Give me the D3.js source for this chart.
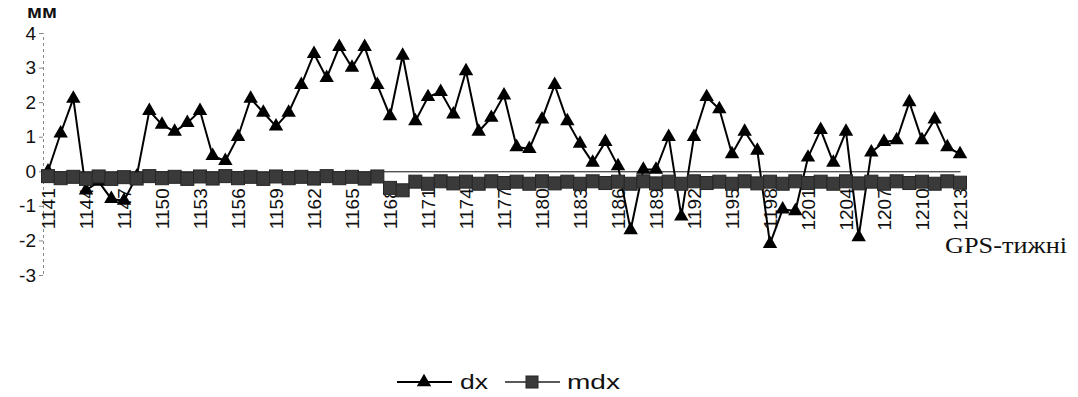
<!DOCTYPE html>
<html><head><meta charset="utf-8">
<script src="https://cdn.jsdelivr.net/npm/d3@7"></script>
<style>body{margin:0;background:#fff}svg{display:block}</style>
</head><body>
<svg id="c" width="1078" height="397"></svg>
<script>
// ---- data ----
const weeks = [1141,1142,1143,1144,1145,1146,1147,1148,1149,1150,1151,1152,1153,1154,1155,1156,1157,1158,1159,1160,
  1161,1162,1163,1164,1165,1166,1167,1168,1169,1170,1171,1172,1173,1174,1175,1176,1177,1178,1179,1180,
  1181,1182,1183,1184,1185,1186,1187,1188,1189,1190,1191,1192,1193,1194,1195,1196,1197,1198,1199,1200,
  1201,1202,1203,1204,1205,1206,1207,1208,1209,1210,1211,1212,1213];
const dx = [0.0,1.1,2.1,-0.55,-0.3,-0.8,-0.85,-0.15,1.75,1.35,1.15,1.4,1.75,0.45,0.3,1.0,2.1,1.7,1.3,1.7,
  2.5,3.4,2.7,3.6,3.0,3.6,2.5,1.6,3.35,1.45,2.15,2.3,1.65,2.9,1.15,1.55,2.2,0.7,0.65,1.5,
  2.5,1.45,0.8,0.25,0.85,0.15,-1.7,0.05,0.05,1.0,-1.3,1.0,2.15,1.8,0.5,1.15,0.6,-2.1,-1.1,-1.15,
  0.4,1.2,0.25,1.15,-1.9,0.55,0.85,0.9,2.0,0.9,1.5,0.7,0.5];
const mdx = [-0.14,-0.2,-0.16,-0.22,-0.15,-0.22,-0.17,-0.21,-0.14,-0.2,-0.16,-0.22,-0.15,-0.21,-0.14,-0.2,-0.16,-0.22,-0.15,-0.2,
  -0.16,-0.21,-0.14,-0.2,-0.16,-0.21,-0.15,-0.48,-0.55,-0.3,-0.36,-0.29,-0.35,-0.3,-0.36,-0.29,-0.34,-0.3,-0.36,-0.29,
  -0.35,-0.3,-0.36,-0.29,-0.34,-0.3,-0.36,-0.29,-0.35,-0.3,-0.36,-0.29,-0.34,-0.3,-0.36,-0.29,-0.35,-0.3,-0.36,-0.29,
  -0.34,-0.3,-0.36,-0.29,-0.35,-0.3,-0.36,-0.29,-0.34,-0.3,-0.36,-0.29,-0.33];
const tickWeeks = [1141,1144,1147,1150,1153,1156,1159,1162,1165,1168,1171,1174,1177,1180,1183,1186,1189,1192,1195,1198,1201,1204,1207,1210,1213];
const yTicks = [-3,-2,-1,0,1,2,3,4];
const seriesNames = ["dx","mdx"];
const yUnit = "мм";
const xTitle = "GPS-тижні";

// ---- chart ----
const svg = d3.select("#c");
const x = d3.scalePoint().domain(weeks).range([48, 960]);
const y = d3.scaleLinear().domain([-3, 4]).range([275, 33]);
const y0 = y(0);
const sans = "'Liberation Sans', Arial, sans-serif";
const serif = "'Liberation Serif', 'Times New Roman', serif";

// y axis
const ya = svg.append("g").attr("transform", "translate(43,0)")
  .call(d3.axisLeft(y).tickValues(yTicks).tickSize(4).tickPadding(3).tickFormat(d => String(d)));
ya.select(".domain").attr("stroke", "#888").attr("stroke-dasharray", "3,3");
ya.selectAll(".tick line").attr("stroke", "#888");
ya.selectAll("text").attr("font-family", sans).attr("font-size", 19).attr("fill", "#111");

svg.append("text").attr("x", 27).attr("y", 18).attr("font-family", sans).attr("font-size", 18)
  .attr("font-weight", "bold")
  .attr("textLength", 30).attr("lengthAdjust", "spacingAndGlyphs").attr("fill", "#111").text(yUnit);

// x axis
const xa = svg.append("g").attr("transform", `translate(0,${y0})`)
  .call(d3.axisBottom(x).tickValues(tickWeeks).tickSize(0).tickSizeOuter(0));
xa.select(".domain").attr("stroke", "#111");
xa.selectAll("text").attr("font-family", sans).attr("font-size", 19).attr("fill", "#111")
  .attr("transform", "rotate(-90)").attr("x", -17).attr("y", 0).attr("dy", "0.36em")
  .style("text-anchor", "end");

svg.append("text").attr("x", 945).attr("y", 253).attr("font-family", serif).attr("font-size", 23)
  .attr("textLength", 122).attr("lengthAdjust", "spacingAndGlyphs").attr("fill", "#111").text(xTitle);

// dx series
const line = d3.line().x((d, i) => x(weeks[i])).y(d => y(d));
const tri = d3.symbol().type(d3.symbolTriangle).size(90);
svg.append("path").datum(dx).attr("d", line).attr("fill", "none").attr("stroke", "#000").attr("stroke-width", 2);
svg.append("g").selectAll("path").data(dx).join("path")
  .attr("d", tri).attr("transform", (d, i) => `translate(${x(weeks[i])},${y(d)})`).attr("fill", "#000");

// mdx series
svg.append("path").datum(mdx).attr("d", line).attr("fill", "none").attr("stroke", "#222").attr("stroke-width", 2);
svg.append("g").selectAll("rect").data(mdx).join("rect")
  .attr("x", (d, i) => x(weeks[i]) - 6.5).attr("y", d => y(d) - 6.5)
  .attr("width", 13).attr("height", 13).attr("fill", "#3a3a3a").attr("stroke", "#262626").attr("stroke-width", 1);

// legend
const ly = 382;
svg.append("line").attr("x1", 397).attr("x2", 452).attr("y1", ly).attr("y2", ly).attr("stroke", "#000").attr("stroke-width", 1.8);
svg.append("path").attr("d", tri).attr("transform", `translate(424,${ly})`).attr("fill", "#000");
svg.append("text").attr("x", 460).attr("y", 389).attr("font-family", sans).attr("font-size", 21)
  .attr("textLength", 28).attr("lengthAdjust", "spacingAndGlyphs").attr("fill", "#111").text(seriesNames[0]);
svg.append("line").attr("x1", 505).attr("x2", 560).attr("y1", ly).attr("y2", ly).attr("stroke", "#222").attr("stroke-width", 1.5);
svg.append("rect").attr("x", 526).attr("y", ly - 6).attr("width", 12).attr("height", 12).attr("fill", "#3a3a3a").attr("stroke", "#222");
svg.append("text").attr("x", 567).attr("y", 389).attr("font-family", sans).attr("font-size", 21)
  .attr("textLength", 53).attr("lengthAdjust", "spacingAndGlyphs").attr("fill", "#111").text(seriesNames[1]);
</script>
</body></html>
